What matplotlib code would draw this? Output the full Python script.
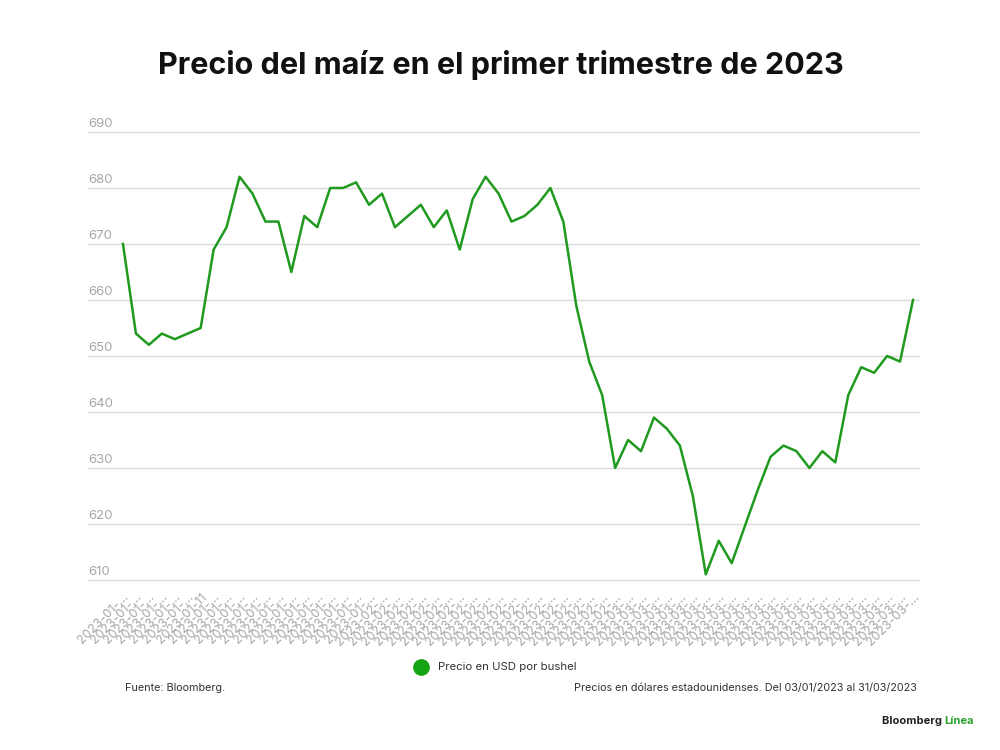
import matplotlib
matplotlib.use("Agg")
import matplotlib.pyplot as plt
import numpy as np

# fechas (días hábiles del 1er trimestre 2023)
dates = [
    "2023-01-03", "2023-01-04", "2023-01-05", "2023-01-06", "2023-01-09", "2023-01-10",
    "2023-01-11", "2023-01-12", "2023-01-13", "2023-01-17", "2023-01-18", "2023-01-19",
    "2023-01-20", "2023-01-23", "2023-01-24", "2023-01-25", "2023-01-26", "2023-01-27",
    "2023-01-30", "2023-01-31",
    "2023-02-01", "2023-02-02", "2023-02-03", "2023-02-06", "2023-02-07", "2023-02-08",
    "2023-02-09", "2023-02-10", "2023-02-13", "2023-02-14", "2023-02-15", "2023-02-16",
    "2023-02-17", "2023-02-21", "2023-02-22", "2023-02-23", "2023-02-24", "2023-02-27",
    "2023-02-28",
    "2023-03-01", "2023-03-02", "2023-03-03", "2023-03-06", "2023-03-07", "2023-03-08",
    "2023-03-09", "2023-03-10", "2023-03-13", "2023-03-14", "2023-03-15", "2023-03-16",
    "2023-03-17", "2023-03-20", "2023-03-21", "2023-03-22", "2023-03-23", "2023-03-24",
    "2023-03-27", "2023-03-28", "2023-03-29", "2023-03-30", "2023-03-31",
]

precio = [
    670, 654, 652, 654, 653, 654, 655, 669, 673, 682, 679, 674,
    674, 665, 675, 673, 680, 680, 681, 677, 679, 673, 675, 677,
    673, 676, 669, 678, 682, 679, 674, 675, 677, 680, 674, 659,
    649, 643, 630, 635, 633, 639, 637, 634, 625, 611, 617, 613,
    619.5, 626, 632, 634, 633, 630, 633, 631, 643, 648, 647, 650,
    649, 660,
]

y_ticks = [610, 620, 630, 640, 650, 660, 670, 680, 690]

verde = "#1f9a1f"
gris = "#a6a6a6"

plt.rcParams["font.family"] = ["Inter", "DejaVu Sans"]

fig = plt.figure(figsize=(10, 7.5), dpi=100)
ax = fig.add_axes([0.088, 0.2155, 0.832, 0.616])

x = np.arange(len(precio))
ax.plot(x, precio, color=verde, linewidth=1.8, label="Precio en USD por bushel")

ax.set_ylim(608.5, 691)
ax.set_xlim(-2.70, len(precio) - 1 + 0.54)
ax.set_yticks(y_ticks)
ax.set_yticklabels([])
ax.tick_params(axis="both", length=0)
ax.grid(axis="y", color="#d9d9d9", linewidth=1)
ax.set_axisbelow(True)
for s in ax.spines.values():
    s.set_visible(False)

for v in y_ticks:
    ax.text(0.0, v + 0.35, str(v), transform=ax.get_yaxis_transform(),
            fontsize=9.5, color=gris, ha="left", va="bottom")

# etiquetas del eje x truncadas como en el original
labels = [d if d.endswith("-11") else d[:8] + "…" for d in dates]
ax.set_xticks(x)
ax.set_xticklabels(labels, rotation=45, ha="right", rotation_mode="anchor",
                   fontsize=9, color=gris)
ax.tick_params(axis="x", pad=2)

fig.text(0.501, 0.913, "Precio del maíz en el primer trimestre de 2023",
         ha="center", va="center", fontsize=22, fontweight="bold", color="#111111")

# leyenda
fig.lines.append(plt.Line2D([0.421], [1 - 667 / 750], marker="o", markersize=11,
                            color="#13a313", linestyle="none", transform=fig.transFigure))
fig.text(0.438, 1 - 667 / 750, "Precio en USD por bushel", ha="left", va="center",
         fontsize=8.2, color="#333333")

fig.text(0.125, 1 - 688 / 750, "Fuente: Bloomberg.", ha="left", va="center",
         fontsize=7.8, color="#333333")
fig.text(0.917, 1 - 688 / 750,
         "Precios en dólares estadounidenses. Del 03/01/2023 al 31/03/2023",
         ha="right", va="center", fontsize=7.8, color="#333333")

t = fig.text(0.882, 1 - 721 / 750, "Bloomberg ", ha="left", va="center",
             fontsize=8, fontweight="bold", color="#222222")
fig.canvas.draw()
bb = t.get_window_extent()
fig.text(bb.x1 / fig.bbox.width, 1 - 721 / 750, "Línea", ha="left", va="center",
         fontsize=8, fontweight="bold", color="#2aa02a")

fig.savefig("out.png", dpi=100)
